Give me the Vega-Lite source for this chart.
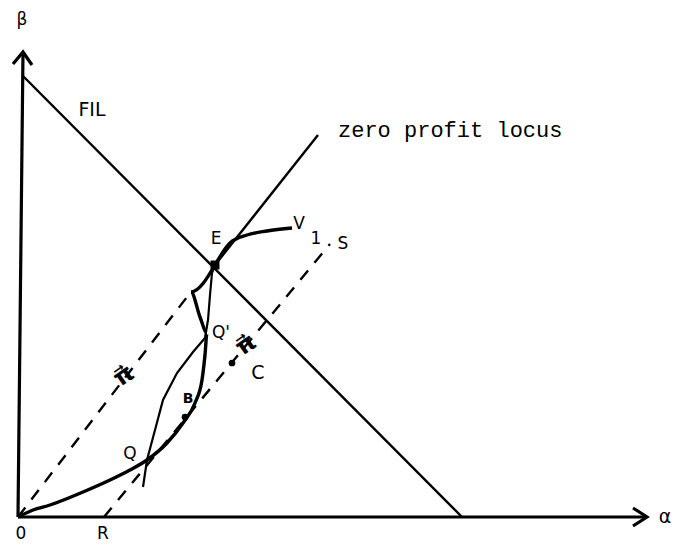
{
  "$schema": "https://vega.github.io/schema/vega-lite/v6.json",
  "width": 677,
  "height": 550,
  "padding": 0,
  "autosize": {"type": "fit", "contains": "padding"},
  "background": "white",
  "config": {"view": {"stroke": null}},
  "datasets": {
    "lines": [
      {"line": "yaxis", "o": 0, "a": 0, "b": 0},
      {"line": "yaxis", "o": 1, "a": 0.05, "b": 4.65},
      {"line": "xaxis", "o": 0, "a": 0, "b": 0},
      {"line": "xaxis", "o": 1, "a": 6.28, "b": 0},
      {"line": "yhead", "o": 0, "a": -0.05, "b": 4.53},
      {"line": "yhead", "o": 1, "a": 0.05, "b": 4.65},
      {"line": "yhead", "o": 2, "a": 0.14, "b": 4.52},
      {"line": "xhead", "o": 0, "a": 6.15, "b": 0.09},
      {"line": "xhead", "o": 1, "a": 6.29, "b": 0},
      {"line": "xhead", "o": 2, "a": 6.15, "b": -0.09},
      {"line": "FIL", "o": 0, "a": 0.04, "b": 4.42},
      {"line": "FIL", "o": 1, "a": 4.44, "b": 0},
      {"line": "zero", "o": 0, "a": 1.97, "b": 2.52},
      {"line": "zero", "o": 1, "a": 3.0, "b": 3.82},
      {"line": "dashO", "o": 0, "a": 0, "b": 0},
      {"line": "dashO", "o": 1, "a": 1.69, "b": 2.2},
      {"line": "dashRS", "o": 0, "a": 0.86, "b": 0},
      {"line": "dashRS", "o": 1, "a": 3.12, "b": 2.73},
      {"line": "V1", "o": 0, "a": 1.97, "b": 2.52},
      {"line": "V1", "o": 1, "a": 2.12, "b": 2.74},
      {"line": "V1", "o": 2, "a": 2.29, "b": 2.82},
      {"line": "V1", "o": 3, "a": 2.49, "b": 2.86},
      {"line": "V1", "o": 4, "a": 2.74, "b": 2.89},
      {"line": "thick", "o": 0, "a": 0, "b": 0},
      {"line": "thick", "o": 1, "a": 0.15, "b": 0.07},
      {"line": "thick", "o": 2, "a": 0.32, "b": 0.12},
      {"line": "thick", "o": 3, "a": 0.65, "b": 0.25},
      {"line": "thick", "o": 4, "a": 0.92, "b": 0.37},
      {"line": "thick", "o": 5, "a": 1.12, "b": 0.47},
      {"line": "thick", "o": 6, "a": 1.29, "b": 0.57},
      {"line": "thick", "o": 7, "a": 1.49, "b": 0.74},
      {"line": "thick", "o": 8, "a": 1.65, "b": 0.94},
      {"line": "thick", "o": 9, "a": 1.77, "b": 1.14},
      {"line": "thick", "o": 10, "a": 1.84, "b": 1.37},
      {"line": "thick", "o": 11, "a": 1.87, "b": 1.62},
      {"line": "thick", "o": 12, "a": 1.89, "b": 1.84},
      {"line": "thick", "o": 13, "a": 1.82, "b": 2.0},
      {"line": "thick", "o": 14, "a": 1.73, "b": 2.25},
      {"line": "thick", "o": 15, "a": 1.97, "b": 2.52},
      {"line": "thin", "o": 0, "a": 1.25, "b": 0.3},
      {"line": "thin", "o": 1, "a": 1.29, "b": 0.57},
      {"line": "thin", "o": 2, "a": 1.37, "b": 0.87},
      {"line": "thin", "o": 3, "a": 1.45, "b": 1.17},
      {"line": "thin", "o": 4, "a": 1.59, "b": 1.44},
      {"line": "thin", "o": 5, "a": 1.75, "b": 1.65},
      {"line": "thin", "o": 6, "a": 1.87, "b": 1.79},
      {"line": "thin", "o": 7, "a": 1.9, "b": 1.97},
      {"line": "thin", "o": 8, "a": 1.92, "b": 2.22},
      {"line": "thin", "o": 9, "a": 1.94, "b": 2.44},
      {"line": "thin", "o": 10, "a": 1.97, "b": 2.52}
    ],
    "points": [
      {"name": "E", "a": 1.97, "b": 2.52},
      {"name": "B", "a": 1.67, "b": 1.0},
      {"name": "C", "a": 2.14, "b": 1.54}
    ],
    "labels": [
      {"t": "β", "a": 0.04, "b": 4.97, "kind": "small"},
      {"t": "FIL", "a": 0.74, "b": 4.07, "kind": "big"},
      {"t": "E", "a": 1.98, "b": 2.78, "kind": "small"},
      {"t": "V", "a": 2.81, "b": 2.93, "kind": "small"},
      {"t": "1", "a": 2.98, "b": 2.78, "kind": "small"},
      {"t": "S", "a": 3.25, "b": 2.73, "kind": "small"},
      {"t": "Q'", "a": 2.03, "b": 1.84, "kind": "small"},
      {"t": "C", "a": 2.4, "b": 1.44, "kind": "big"},
      {"t": "Q", "a": 1.12, "b": 0.63, "kind": "small"},
      {"t": "B", "a": 1.7, "b": 1.18, "kind": "tiny"},
      {"t": "0", "a": 0.03, "b": -0.17, "kind": "small"},
      {"t": "R", "a": 0.85, "b": -0.17, "kind": "small"},
      {"t": "α", "a": 6.47, "b": 0.0, "kind": "big"}
    ],
    "pis": [
      {"t": "π⃗", "a": 1.06, "b": 1.41},
      {"t": "π⃗", "a": 2.28, "b": 1.72}
    ],
    "title": [
      {"t": "zero profit locus", "a": 3.2, "b": 3.8}
    ]
  },
  "encoding": {
    "x": {"field": "a", "type": "quantitative", "scale": {"domain": [-0.18, 6.59], "nice": false, "zero": false}, "axis": null},
    "y": {"field": "b", "type": "quantitative", "scale": {"domain": [-0.33, 5.17], "nice": false, "zero": false}, "axis": null}
  },
  "layer": [
    {
      "data": {"name": "lines"},
      "transform": [{"filter": {"field": "line", "oneOf": ["yaxis", "xaxis", "yhead", "xhead"]}}],
      "mark": {"type": "line", "color": "black", "strokeWidth": 3.2, "strokeJoin": "miter"},
      "encoding": {"detail": {"field": "line"}, "order": {"field": "o", "type": "quantitative"}}
    },
    {
      "data": {"name": "lines"},
      "transform": [{"filter": {"field": "line", "oneOf": ["FIL", "zero"]}}],
      "mark": {"type": "line", "color": "black", "strokeWidth": 2.4},
      "encoding": {"detail": {"field": "line"}, "order": {"field": "o", "type": "quantitative"}}
    },
    {
      "data": {"name": "lines"},
      "transform": [{"filter": {"field": "line", "oneOf": ["dashO", "dashRS"]}}],
      "mark": {"type": "line", "color": "black", "strokeWidth": 2.4, "strokeDash": [12, 10]},
      "encoding": {"detail": {"field": "line"}, "order": {"field": "o", "type": "quantitative"}}
    },
    {
      "data": {"name": "lines"},
      "transform": [{"filter": {"field": "line", "oneOf": ["thick", "V1"]}}],
      "mark": {"type": "line", "color": "black", "strokeWidth": 3.4, "interpolate": "monotone"},
      "encoding": {"detail": {"field": "line"}, "order": {"field": "o", "type": "quantitative"}}
    },
    {
      "data": {"name": "lines"},
      "transform": [{"filter": {"field": "line", "equal": "thin"}}],
      "mark": {"type": "line", "color": "black", "strokeWidth": 2.2},
      "encoding": {"order": {"field": "o", "type": "quantitative"}}
    },
    {
      "data": {"name": "points"},
      "transform": [{"filter": {"field": "name", "equal": "E"}}],
      "mark": {"type": "square", "color": "black", "filled": true, "opacity": 1, "size": 80}
    },
    {
      "data": {"name": "points"},
      "transform": [{"filter": {"field": "name", "oneOf": ["B", "C"]}}],
      "mark": {"type": "circle", "color": "black", "opacity": 1, "size": 45}
    },
    {
      "data": {"name": "labels"},
      "transform": [{"filter": {"field": "kind", "equal": "small"}}],
      "mark": {"type": "text", "font": "DejaVu Sans", "fontSize": 17, "color": "black", "baseline": "middle", "align": "center"},
      "encoding": {"text": {"field": "t"}}
    },
    {
      "data": {"name": "labels"},
      "transform": [{"filter": {"field": "kind", "equal": "big"}}],
      "mark": {"type": "text", "font": "DejaVu Sans", "fontSize": 19, "color": "black", "baseline": "middle", "align": "center"},
      "encoding": {"text": {"field": "t"}}
    },
    {
      "data": {"name": "labels"},
      "transform": [{"filter": {"field": "kind", "equal": "tiny"}}],
      "mark": {"type": "text", "font": "DejaVu Sans", "fontSize": 14, "fontWeight": "bold", "color": "black", "baseline": "middle", "align": "center"},
      "encoding": {"text": {"field": "t"}}
    },
    {
      "data": {"name": "pis"},
      "mark": {"type": "text", "font": "DejaVu Sans", "fontSize": 24, "fontWeight": "bold", "color": "black", "baseline": "middle", "align": "center", "angle": -35},
      "encoding": {"text": {"field": "t"}}
    },
    {
      "data": {"name": "title"},
      "mark": {"type": "text", "font": "Liberation Mono", "fontSize": 22, "color": "black", "baseline": "alphabetic", "align": "left"},
      "encoding": {"text": {"field": "t"}}
    }
  ]
}
